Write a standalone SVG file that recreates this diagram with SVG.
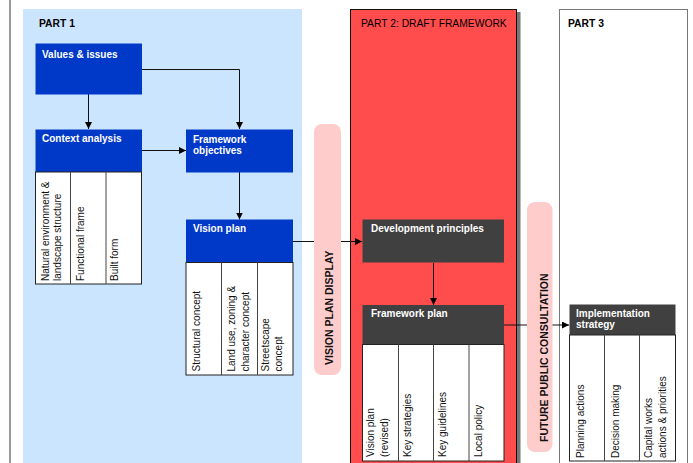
<svg xmlns="http://www.w3.org/2000/svg" width="693" height="463" viewBox="0 0 693 463">
<defs>
<marker id="arr" markerUnits="userSpaceOnUse" markerWidth="8" markerHeight="8" refX="7" refY="3.5" orient="auto"><path d="M0,0 L7,3.5 L0,7 z" fill="#000"/></marker>
<style>
text{font-family:"Liberation Sans",Arial,sans-serif}
.hd{fill:#fff;font-size:10px;font-weight:bold}
.blue{fill:#0038C8}
.dark{fill:#404040}
.tbl{fill:#fff;stroke:#222;stroke-width:1}
.div{stroke:#444;stroke-width:1}
.cell{font-size:10px;fill:#111}
.conn{fill:none;stroke:#111;stroke-width:1}
.pill{fill:#FFCCCC}
.pl{font-size:10.5px;font-weight:bold;fill:#111}
.part{font-size:10.3px;fill:#000}
</style>
</defs>
<rect width="693" height="463" fill="#fff"/>
<line x1="10" y1="0" x2="10" y2="463" stroke="#777" stroke-width="1.5"/>
<g id="part1-panel">
<rect x="23" y="9" width="279" height="460" fill="#CCE5FF"/>
<text x="39" y="26.5" class="part" font-weight="bold">PART 1</text>
</g>
<g id="part2-panel">
<rect x="517" y="12" width="3.5" height="460" fill="#777"/>
<rect x="350.5" y="9.5" width="166" height="460" fill="#FF4C4C" stroke="#111" stroke-width="1"/>
<text x="361" y="26.5" class="part" font-size="10.7px">PART 2: DRAFT FRAMEWORK</text>
</g>
<g id="part3-panel">
<rect x="559.5" y="9.5" width="128" height="460" fill="#fff" stroke="#777" stroke-width="1"/>
<text x="568" y="26.5" class="part" font-weight="bold">PART 3</text>
</g>
<g id="connectors">
<line class="conn" x1="88.5" y1="94" x2="88.5" y2="129" marker-end="url(#arr)"/>
<polyline class="conn" points="142,69.5 239.5,69.5 239.5,129" marker-end="url(#arr)"/>
<line class="conn" x1="142" y1="150.5" x2="186" y2="150.5" stroke="#444" stroke-width="1.5" marker-end="url(#arr)"/>
<line class="conn" x1="239.5" y1="172" x2="239.5" y2="219.5" marker-end="url(#arr)"/>
<line class="conn" x1="293" y1="241.5" x2="362" y2="241.5" marker-end="url(#arr)"/>
<line class="conn" x1="433.5" y1="263" x2="433.5" y2="305" marker-end="url(#arr)"/>
<line class="conn" x1="504" y1="325" x2="569" y2="325" marker-end="url(#arr)"/>
</g>
<g id="vision-plan-display">
<rect class="pill" x="314" y="124" width="27" height="251" rx="8"/>
<text class="pl" transform="translate(333,365) rotate(-90)">VISION PLAN DISPLAY</text>
</g>
<g id="future-public-consultation">
<rect class="pill" x="527" y="202" width="25.5" height="250" rx="8"/>
<text class="pl" font-size="10.8px" transform="translate(548,442) rotate(-90)">FUTURE PUBLIC CONSULTATION</text>
</g>
<g id="values-issues">
<rect class="blue" x="35.5" y="43.5" width="106.5" height="51"/>
<text class="hd" x="42" y="57.5">Values &amp; issues</text>
</g>
<g id="context-analysis">
<rect class="blue" x="35.5" y="129.5" width="106.5" height="42.5"/>
<text class="hd" x="42" y="142">Context analysis</text>
<rect class="tbl" x="35.5" y="172" width="106" height="112"/>
<line class="div" x1="70.5" y1="172" x2="70.5" y2="284"/>
<line class="div" x1="106" y1="172" x2="106" y2="284"/>
<text class="cell" transform="translate(48.5,281) rotate(-90)">Natural environment &amp;</text>
<text class="cell" transform="translate(60.5,281) rotate(-90)">landscape structure</text>
<text class="cell" transform="translate(84,281) rotate(-90)">Functional frame</text>
<text class="cell" transform="translate(118,281) rotate(-90)">Built form</text>
</g>
<g id="framework-objectives">
<rect class="blue" x="186" y="129.5" width="107" height="43"/>
<text class="hd" x="193" y="142.5">Framework</text>
<text class="hd" x="193" y="154">objectives</text>
</g>
<g id="vision-plan">
<rect class="blue" x="186" y="219.5" width="107" height="43"/>
<text class="hd" x="193" y="231.5">Vision plan</text>
<rect class="tbl" x="186" y="262.5" width="107" height="112.5"/>
<line class="div" x1="221.5" y1="262.5" x2="221.5" y2="375"/>
<line class="div" x1="257.5" y1="262.5" x2="257.5" y2="375"/>
<text class="cell" transform="translate(199.5,371.5) rotate(-90)">Structural concept</text>
<text class="cell" transform="translate(235,371.5) rotate(-90)">Land use, zoning &amp;</text>
<text class="cell" transform="translate(248.5,371.5) rotate(-90)">character concept</text>
<text class="cell" transform="translate(268.5,371.5) rotate(-90)">Streetscape</text>
<text class="cell" transform="translate(282,371.5) rotate(-90)">concept</text>
</g>
<g id="development-principles">
<rect class="dark" x="362.5" y="219.5" width="141.5" height="43"/>
<text class="hd" x="371" y="231.5">Development principles</text>
</g>
<g id="framework-plan">
<rect class="dark" x="362.5" y="305" width="141.5" height="39.5"/>
<text class="hd" x="371" y="316.5">Framework plan</text>
<rect class="tbl" x="362.5" y="344.5" width="141.5" height="116.5"/>
<line class="div" x1="398.5" y1="344.5" x2="398.5" y2="461"/>
<line class="div" x1="433.5" y1="344.5" x2="433.5" y2="461"/>
<line class="div" x1="469" y1="344.5" x2="469" y2="461"/>
<text class="cell" transform="translate(374,457) rotate(-90)">Vision plan</text>
<text class="cell" transform="translate(387.5,457) rotate(-90)">(revised)</text>
<text class="cell" transform="translate(410.5,457) rotate(-90)">Key strategies</text>
<text class="cell" transform="translate(445.5,457) rotate(-90)">Key guidelines</text>
<text class="cell" transform="translate(481.5,457) rotate(-90)">Local policy</text>
</g>
<g id="implementation-strategy">
<rect class="dark" x="569.5" y="304.5" width="106" height="30.5"/>
<text class="hd" x="576" y="316.5">Implementation</text>
<text class="hd" x="576" y="327.5">strategy</text>
<rect class="tbl" x="569.5" y="335" width="106" height="126"/>
<line class="div" x1="604.5" y1="335" x2="604.5" y2="461"/>
<line class="div" x1="639.5" y1="335" x2="639.5" y2="461"/>
<text class="cell" transform="translate(583.5,458) rotate(-90)">Planning actions</text>
<text class="cell" transform="translate(618.5,458) rotate(-90)">Decision making</text>
<text class="cell" transform="translate(652,458) rotate(-90)">Capital works</text>
<text class="cell" transform="translate(665.5,458) rotate(-90)">actions &amp; priorities</text>
</g>
</svg>
